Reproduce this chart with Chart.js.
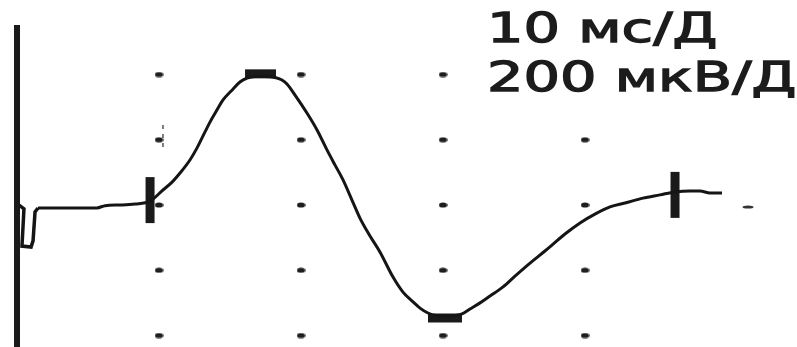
<!DOCTYPE html>
<html>
<head>
<meta charset="utf-8">
<script src="https://cdn.jsdelivr.net/npm/chart.js@4.4.1/dist/chart.umd.min.js"></script>
<style>
  html, body { margin: 0; padding: 0; background: #fff; }
  #wrap { position: relative; width: 797px; height: 347px; overflow: hidden; }
  #plot { position: absolute; left: 0; top: 0; }
  .scale {
    position: absolute; left: 487px; top: 4px;
    font-family: "DejaVu Sans", sans-serif; font-size: 41px; line-height: 49px;
    color: #1c1c1c; white-space: nowrap;
    -webkit-text-stroke: 1.3px #1c1c1c;
    transform: scaleX(1.4); transform-origin: 0 0;
  }
</style>
</head>
<body>
<div id="wrap">
  <canvas id="plot" width="797" height="347"></canvas>
  <div class="scale" id="scaleText"></div>
</div>
<script>
// Sweep and gain settings printed in the corner
const scaleLabels = ["10 мс/Д", "200 мкВ/Д"];

// Grid divisions: 10 ms horizontally, 200 µV vertically
const gridTimes = [10, 20, 30, 40];
const gridLevels = [400, 200, 0, -200, -400];

// Stimulus artifact at the start of the sweep (ms, µV)
const artifactTime = [0.14, 0.49, 0.35, 0.99, 1.13, 1.27, 1.48];
const artifactAmp = [0, -12, -126, -129, -110, -21, -9];

// Recorded response: time (ms) and amplitude (µV)
const traceTime = [1.48, 3.03, 5.63, 6.20, 7.25, 8.31, 9.37,
  10.28, 10.92, 11.48, 12.18, 12.68, 13.24, 13.59, 14.08, 14.51, 15.14, 15.70, 16.20, 16.76,
  17.46, 18.17, 18.66, 19.01, 19.58, 20.42, 21.13, 21.83, 22.39, 22.96, 23.59, 24.15, 24.86,
  25.56, 26.48, 27.18, 27.89, 28.38, 28.94, 29.51, 30.14, 30.85, 31.34, 31.90, 32.61, 33.31,
  34.23, 35.07, 36.13, 37.18, 37.75, 38.59, 39.65, 40.70, 41.76, 42.82, 44.08, 45.28, 46.34,
  47.39, 48.10, 48.80, 49.65];
const traceAmp = [-9, -9, -9, -2, 0, 3, 12,
  46, 70, 98, 138, 175, 224, 254, 291, 322, 352, 377, 389, 394,
  394, 391, 383, 371, 337, 282, 230, 169, 123, 77, 15, -40, -95,
  -144, -221, -267, -297, -316, -331, -339, -340, -339, -334, -319, -300, -279,
  -251, -218, -178, -141, -120, -89, -55, -28, -6, 6, 21, 31, 40,
  43, 43, 37, 37];

// Cursor marks: latency markers (vertical) and peak markers (horizontal)
const cursorTime = [9.37, 17.15, 30.14, 46.34];
const cursorAmp = [15, 402, -346, 31];
const cursorVertical = [true, false, false, true];
const cursorHalfLength = [23, 15.5, 17, 23];

// Vertical reference axis at time zero
const axisTime = [0, 0];
const axisAmp = [552, -440];

// Small dashed tick above the first cursor
const tickTime = [10.28, 10.28];
const tickAmp = [245, 169];

// Stray dash at the right edge
const strayTime = [51.48];
const strayAmp = [-6];

document.getElementById('scaleText').innerHTML = scaleLabels.join('<br>');

function dotImage() {
  const c = document.createElement('canvas');
  c.width = 9; c.height = 6;
  const g = c.getContext('2d');
  g.fillStyle = '#1e1e1e';
  g.beginPath();
  g.ellipse(4.5, 3, 4.2, 2.6, 0, 0, Math.PI * 2);
  g.fill();
  return c;
}
function dashImage() {
  const c = document.createElement('canvas');
  c.width = 12; c.height = 4;
  const g = c.getContext('2d');
  g.fillStyle = '#333';
  g.beginPath();
  g.ellipse(6, 2, 5.5, 1.6, 0, 0, Math.PI * 2);
  g.fill();
  return c;
}

const gridPoints = [];
gridTimes.forEach(t => gridLevels.forEach(v => {
  if (!(t === 40 && v === 400)) gridPoints.push({ x: t, y: v });
}));

const zip = (xs, ys) => xs.map((x, i) => ({ x, y: ys[i] }));

new Chart(document.getElementById('plot'), {
  type: 'scatter',
  data: {
    datasets: [
      {
        data: gridPoints,
        pointStyle: dotImage(),
        pointRadius: 3,
        showLine: false
      },
      {
        data: zip(strayTime, strayAmp),
        pointStyle: dashImage(),
        showLine: false
      },
      {
        data: zip(axisTime, axisAmp),
        showLine: true,
        borderColor: '#1a1a1a',
        borderWidth: 6,
        pointRadius: 0
      },
      {
        data: zip(tickTime, tickAmp),
        showLine: true,
        borderColor: '#555',
        borderWidth: 1.5,
        borderDash: [4, 5],
        pointRadius: 0
      },
      {
        data: zip(artifactTime, artifactAmp),
        showLine: true,
        borderColor: '#151515',
        borderWidth: 3.5,
        tension: 0,
        pointRadius: 0
      },
      {
        data: zip(traceTime, traceAmp),
        showLine: true,
        borderColor: '#151515',
        borderWidth: 3,
        cubicInterpolationMode: 'monotone',
        pointRadius: 0
      },
      {
        data: zip(cursorTime, cursorAmp),
        showLine: false,
        pointStyle: 'line',
        pointRotation: cursorVertical.map(v => v ? 90 : 0),
        pointRadius: cursorHalfLength,
        pointBorderWidth: 9,
        pointBorderColor: '#1a1a1a',
        pointBackgroundColor: '#1a1a1a'
      }
    ]
  },
  options: {
    responsive: false,
    animation: false,
    events: [],
    layout: { padding: 0, autoPadding: false },
    plugins: { legend: { display: false }, tooltip: { enabled: false }, title: { display: false } },
    scales: {
      x: { type: 'linear', display: false, min: -17 / 14.2, max: 780 / 14.2 },
      y: { type: 'linear', display: false, min: -142 / 65.25 * 200, max: 205 / 65.25 * 200 }
    }
  }
});
</script>
</body>
</html>
